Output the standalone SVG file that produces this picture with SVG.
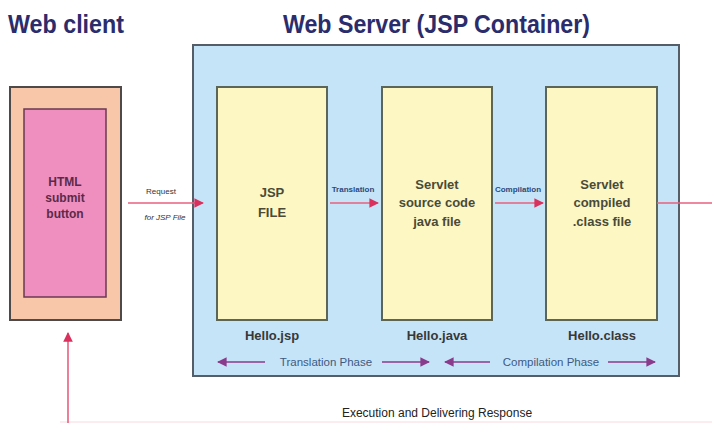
<svg xmlns="http://www.w3.org/2000/svg" width="712" height="423" viewBox="0 0 712 423">
  <defs>
    <marker id="redHead" viewBox="0 0 10 10" refX="9" refY="5" markerWidth="6" markerHeight="6" orient="auto">
      <path d="M0,0 L10,5 L0,10 z" fill="#d9305e"/>
    </marker>
    <marker id="purpleHead" viewBox="0 0 10 10" refX="9" refY="5" markerWidth="6" markerHeight="6" orient="auto-start-reverse">
      <path d="M0,0 L10,5 L0,10 z" fill="#8a3b8c"/>
    </marker>
  </defs>
  <style>
    .title { font-family: "Liberation Sans", Arial, sans-serif; font-weight: bold; font-size: 26px; fill: #2b2c6c; }
    .boxtxt { font-family: "Liberation Sans", Arial, sans-serif; font-weight: bold; font-size: 13px; fill: #4a4a38; text-anchor: middle; }
    .htmltxt { font-family: "Liberation Sans", Arial, sans-serif; font-weight: bold; font-size: 12px; fill: #5a2a48; text-anchor: middle; }
    .hello { font-family: "Liberation Sans", Arial, sans-serif; font-weight: bold; font-size: 13px; fill: #383838; text-anchor: middle; }
    .phase { font-family: "Liberation Sans", Arial, sans-serif; font-size: 11.5px; fill: #3d5a82; text-anchor: middle; }
    .small { font-family: "Liberation Sans", Arial, sans-serif; font-size: 8px; fill: #333; text-anchor: middle; }
    .smallblue { font-family: "Liberation Sans", Arial, sans-serif; font-weight: bold; font-size: 8px; fill: #2a4a7a; text-anchor: middle; }
    .caption { font-family: "Liberation Sans", Arial, sans-serif; font-size: 12px; fill: #222; text-anchor: middle; }
    .yellow { fill: #fdf7c4; stroke: #5b6658; stroke-width: 2; }
    .flow { stroke: #e8607e; stroke-width: 1.6; fill: none; }
    .phaseline { stroke: #8a3b8c; stroke-width: 1.6; fill: none; }
  </style>

  <rect width="712" height="423" fill="#ffffff"/>
  <!-- faint return path along the bottom edge -->
  <rect x="60" y="421" width="652" height="2" fill="#fcecef"/>

  <!-- headings -->
  <text class="title" x="8" y="33" textLength="116" lengthAdjust="spacingAndGlyphs">Web client</text>
  <text class="title" x="283" y="33" textLength="307" lengthAdjust="spacingAndGlyphs">Web Server (JSP Container)</text>

  <!-- client side -->
  <g id="web-client">
    <rect x="10" y="87" width="111" height="233" fill="#f8c6a8" stroke="#4e4a4a" stroke-width="2"/>
    <rect x="24" y="109" width="82" height="188" fill="#ef8fc0" stroke="#6a3a52" stroke-width="1.5"/>
    <text class="htmltxt" x="65" y="186">HTML</text>
    <text class="htmltxt" x="65" y="202">submit</text>
    <text class="htmltxt" x="65" y="218">button</text>
  </g>

  <!-- server container -->
  <g id="web-server">
    <rect x="193" y="45" width="486" height="331" fill="#c6e4f7" stroke="#555d68" stroke-width="2"/>
  </g>

  <g id="jsp-file">
    <rect class="yellow" x="217" y="87" width="110" height="233"/>
    <text class="boxtxt" x="272" y="197">JSP</text>
    <text class="boxtxt" x="272" y="217">FILE</text>
    <text class="hello" x="272" y="340">Hello.jsp</text>
  </g>

  <g id="servlet-source">
    <rect class="yellow" x="382" y="87" width="110" height="233"/>
    <text class="boxtxt" x="437" y="189">Servlet</text>
    <text class="boxtxt" x="437" y="207">source code</text>
    <text class="boxtxt" x="437" y="226">java file</text>
    <text class="hello" x="437" y="340">Hello.java</text>
  </g>

  <g id="servlet-class">
    <rect class="yellow" x="546" y="87" width="111" height="233"/>
    <text class="boxtxt" x="602" y="189">Servlet</text>
    <text class="boxtxt" x="602" y="207">compiled</text>
    <text class="boxtxt" x="602" y="226">.class file</text>
    <text class="hello" x="602" y="340">Hello.class</text>
  </g>

  <!-- connectors -->
  <g id="connectors">
    <line class="flow" x1="128" y1="203" x2="203" y2="203" marker-end="url(#redHead)"/>
    <text class="small" x="161" y="194">Request</text>
    <text class="small" x="165" y="220" font-style="italic">for JSP File</text>

    <line class="flow" x1="330" y1="203" x2="378" y2="203" marker-end="url(#redHead)"/>
    <text class="smallblue" x="353" y="192">Translation</text>

    <line class="flow" x1="495" y1="203" x2="543" y2="203" marker-end="url(#redHead)"/>
    <text class="smallblue" x="518" y="192">Compilation</text>

    <line class="flow" x1="657" y1="203" x2="712" y2="203"/>

    <line class="flow" x1="68" y1="423" x2="68" y2="333" marker-end="url(#redHead)"/>

    <!-- phase spans -->
    <line class="phaseline" x1="265" y1="362" x2="218" y2="362" marker-end="url(#purpleHead)"/>
    <text class="phase" x="326" y="366">Translation Phase</text>
    <line class="phaseline" x1="382" y1="362" x2="429" y2="362" marker-end="url(#purpleHead)"/>

    <line class="phaseline" x1="490" y1="362" x2="445" y2="362" marker-end="url(#purpleHead)"/>
    <text class="phase" x="551" y="366">Compilation Phase</text>
    <line class="phaseline" x1="608" y1="362" x2="655" y2="362" marker-end="url(#purpleHead)"/>
  </g>

  <text class="caption" x="437" y="417">Execution and Delivering Response</text>
</svg>
